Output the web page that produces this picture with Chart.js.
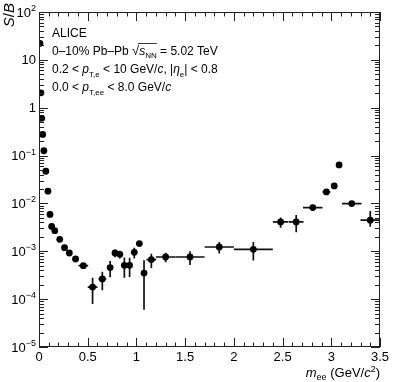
<!DOCTYPE html>
<html>
<head>
<meta charset="utf-8">
<script src="https://cdn.jsdelivr.net/npm/chart.js@4.4.1/dist/chart.umd.min.js"></script>
<style>
    html, body { margin: 0; padding: 0; background: #fff; }
    #sb_plot_container { width: 393px; height: 382px; }
</style>
</head>
<body>
<div id="sb_plot_container"><canvas id="sb_plot" width="393" height="382"></canvas></div>
<script>
// pair mass bin centres (GeV/c^2) and half bin widths
const mass = [0.01, 0.02, 0.028, 0.038, 0.05, 0.07, 0.092, 0.113, 0.13, 0.162, 0.213, 0.262, 0.311, 0.375, 0.455,
    0.55, 0.65, 0.73, 0.78, 0.83, 0.876, 0.93, 0.978, 1.03, 1.078, 1.153, 1.3, 1.55, 1.85, 2.2,
    2.48, 2.64, 2.81, 2.95, 3.03, 3.08, 3.21, 3.4];
const massHalfWidth = [0.005, 0.005, 0.005, 0.005, 0.005, 0.01, 0.01, 0.01, 0.01, 0.02, 0.02, 0.02, 0.02, 0.03, 0.05,
    0.05, 0.04, 0.02, 0.02, 0.02, 0.02, 0.02, 0.02, 0.02, 0.02, 0.05, 0.1, 0.15, 0.15, 0.2,
    0.08, 0.075, 0.1, 0.04, 0.02, 0.02, 0.1, 0.1];

// signal over background and its errors
const sOverB = [22, 2.05, 0.60, 0.276, 0.126, 0.047, 0.018, 0.0059, 0.0033, 0.0027, 0.00178, 0.00119, 0.00092, 0.00069, 0.0005,
    0.000179, 0.000264, 0.000456, 0.00092, 0.000865, 0.00051, 0.00051, 0.00095, 0.00145, 0.00035, 0.00067, 0.00076, 0.00076, 0.00123, 0.0011,
    0.0041, 0.0041, 0.0082, 0.0174, 0.0232, 0.0638, 0.00995, 0.00446];
const errUp = [0, 0, 0, 0, 0, 0, 0, 0, 0, 0, 0.00006, 0.00009, 0.00008, 0.00008, 0.00007,
    0.0001, 0.00011, 0.00017, 0.00017, 0.00016, 0.00023, 0.00022, 0.00024, 0.00018, 0.0003, 0.00022, 0.00017, 0.00024, 0.00033, 0.00046,
    0.001, 0.0016, 0.0012, 0.0015, 0.002, 0.003, 0.0013, 0.0025];
const errDown = [0, 0, 0, 0, 0, 0, 0, 0, 0, 0, 0.00006, 0.00009, 0.00008, 0.00008, 0.00007,
    0.0001, 0.00011, 0.00017, 0.00017, 0.00016, 0.00023, 0.00022, 0.00024, 0.00018, 0.00029, 0.00022, 0.00017, 0.00024, 0.00033, 0.00046,
    0.001, 0.0016, 0.0012, 0.0015, 0.002, 0.003, 0.0013, 0.0012];

// axis ticks
const xTickValues = [0, 0.5, 1, 1.5, 2, 2.5, 3, 3.5];
const xTickLabels = ["0", "0.5", "1", "1.5", "2", "2.5", "3", "3.5"];
const yTickValues = [100, 10, 1, 0.1, 0.01, 0.001, 0.0001, 0.00001];
const yTickBase = ["10", "10", "1", "10", "10", "10", "10", "10"];
const yTickExp = ["2", "", "", "\u22121", "\u22122", "\u22123", "\u22124", "\u22125"];

const FONT = '"Liberation Sans", Arial, Helvetica, sans-serif';

function font(size, italic) {
    return (italic ? 'italic ' : '') + size + 'px ' + FONT;
}

// draws a list of text runs, each {t, size, it, dy}; returns the x positions of each run
function drawRuns(ctx, x, y, runs, align) {
    let total = 0;
    runs.forEach(r => {
        ctx.font = font(r.size, r.it);
        r.w = ctx.measureText(r.t).width;
        total += r.w;
    });
    let cx = align === 'right' ? x - total : x;
    ctx.textAlign = 'left';
    ctx.textBaseline = 'alphabetic';
    const pos = [];
    runs.forEach(r => {
        ctx.font = font(r.size, r.it);
        ctx.fillText(r.t, cx, y + (r.dy || 0));
        pos.push({ x0: cx, x1: cx + r.w });
        cx += r.w;
    });
    return pos;
}

const errorBarPlugin = {
    id: 'errorBars',
    beforeDatasetsDraw(chart) {
        const ctx = chart.ctx, xs = chart.scales.x, ys = chart.scales.y;
        ctx.save();
        ctx.strokeStyle = '#111';
        ctx.lineWidth = 1.7;
        for (let i = 0; i < mass.length; i++) {
            const px = xs.getPixelForValue(mass[i]);
            const py = ys.getPixelForValue(sOverB[i]);
            ctx.beginPath();
            ctx.moveTo(xs.getPixelForValue(mass[i] - massHalfWidth[i]), py);
            ctx.lineTo(xs.getPixelForValue(mass[i] + massHalfWidth[i]), py);
            if (errUp[i] > 0) {
                const lo = Math.max(sOverB[i] - errDown[i], 1e-6);
                ctx.moveTo(px, ys.getPixelForValue(sOverB[i] + errUp[i]));
                ctx.lineTo(px, ys.getPixelForValue(lo));
            }
            ctx.stroke();
        }
        ctx.restore();
    }
};

const framePlugin = {
    id: 'rootFrame',
    afterDraw(chart) {
        const ctx = chart.ctx, xs = chart.scales.x, ys = chart.scales.y;
        const a = chart.chartArea;
        ctx.save();
        ctx.strokeStyle = '#222';
        ctx.lineWidth = 1;
        ctx.strokeRect(Math.round(a.left) + 0.5, Math.round(a.top) + 0.5,
            Math.round(a.right - a.left) - 1, Math.round(a.bottom - a.top) - 1);

        ctx.beginPath();
        // x ticks, every 0.1, major every 0.5
        for (let k = 0; k <= 35; k++) {
            const px = Math.round(xs.getPixelForValue(k / 10)) + 0.5;
            const len = k % 5 === 0 ? 9 : 4.5;
            ctx.moveTo(px, a.bottom); ctx.lineTo(px, a.bottom - len);
            ctx.moveTo(px, a.top); ctx.lineTo(px, a.top + len);
        }
        // y ticks, decades with minors 2..9
        for (let d = -5; d <= 2; d++) {
            for (let m = 1; m <= 9; m++) {
                const v = m * Math.pow(10, d);
                if (v > 100) break;
                const py = Math.round(ys.getPixelForValue(v)) + 0.5;
                const len = m === 1 ? 9 : 5;
                ctx.moveTo(a.left, py); ctx.lineTo(a.left + len, py);
                ctx.moveTo(a.right, py); ctx.lineTo(a.right - len, py);
            }
        }
        ctx.stroke();

        ctx.fillStyle = '#000';
        // x tick labels
        ctx.font = font(13, false);
        ctx.textAlign = 'center';
        ctx.textBaseline = 'alphabetic';
        xTickValues.forEach((v, i) => {
            ctx.fillText(xTickLabels[i], xs.getPixelForValue(v), a.bottom + 14);
        });
        // y tick labels with superscript exponents
        yTickValues.forEach((v, i) => {
            const py = ys.getPixelForValue(v);
            const runs = [{ t: yTickBase[i], size: 13, dy: 0 }];
            if (yTickExp[i]) runs.push({ t: yTickExp[i], size: 9, dy: -5.5 });
            drawRuns(ctx, 36, py + 4.5, runs, 'right');
        });

        // axis titles
        drawRuns(ctx, a.right, a.bottom + 30, [
            { t: 'm', size: 13, it: true },
            { t: 'ee', size: 9, dy: 3 },
            { t: ' (GeV/', size: 13 },
            { t: 'c', size: 13, it: true },
            { t: '2', size: 9, dy: -5 },
            { t: ')', size: 13 }
        ], 'right');
        ctx.save();
        ctx.translate(14, 3);
        ctx.rotate(-Math.PI / 2);
        drawRuns(ctx, 0, 0, [
            { t: 'S', size: 15, it: true },
            { t: '/', size: 15 },
            { t: 'B', size: 15, it: true }
        ], 'right');
        ctx.restore();

        // legend text
        const F = 12, S = 8, tx = 52;
        drawRuns(ctx, tx, 37, [{ t: 'ALICE', size: F }]);
        const p2 = drawRuns(ctx, tx, 55, [
            { t: '0\u201310% Pb\u2013Pb ', size: F },
            { t: '\u221A', size: F + 1 },
            { t: 's', size: F, it: true },
            { t: 'NN', size: S, dy: 3 },
            { t: ' = 5.02 TeV', size: F }
        ]);
        ctx.beginPath();
        ctx.lineWidth = 0.9;
        ctx.moveTo(p2[1].x1 - 1, 55 - F + 0.5);
        ctx.lineTo(p2[3].x1, 55 - F + 0.5);
        ctx.stroke();
        drawRuns(ctx, tx, 73, [
            { t: '0.2 < ', size: F },
            { t: 'p', size: F, it: true },
            { t: 'T,e', size: S, dy: 4 },
            { t: ' < 10 GeV/', size: F },
            { t: 'c', size: F, it: true },
            { t: ', |', size: F },
            { t: '\u03B7', size: F, it: true },
            { t: 'e', size: S, dy: 4 },
            { t: '| < 0.8', size: F }
        ]);
        drawRuns(ctx, tx, 91, [
            { t: '0.0 < ', size: F },
            { t: 'p', size: F, it: true },
            { t: 'T,ee', size: S, dy: 4 },
            { t: ' < 8.0 GeV/', size: F },
            { t: 'c', size: F, it: true }
        ]);
        ctx.restore();
    }
};

function createSBPlot() {
    const points = mass.map((m, i) => ({ x: m, y: sOverB[i] }));
    const config = {
        type: 'scatter',
        data: {
            datasets: [{
                label: 'S/B',
                data: points,
                backgroundColor: '#000',
                borderWidth: 0,
                pointRadius: 3.4,
            }]
        },
        options: {
            responsive: false,
            animation: false,
            devicePixelRatio: 1,
            layout: { padding: { left: 39, right: 13, top: 12, bottom: 35 } },
            plugins: { legend: { display: false }, tooltip: { enabled: false } },
            scales: {
                x: { type: 'linear', min: 0, max: 3.5, display: false },
                y: { type: 'logarithmic', min: 1e-5, max: 100, display: false },
            },
        },
        plugins: [errorBarPlugin, framePlugin],
    };
    window.sb_chart = new Chart(document.getElementById('sb_plot'), config);
}

createSBPlot();
</script>
</body>
</html>
